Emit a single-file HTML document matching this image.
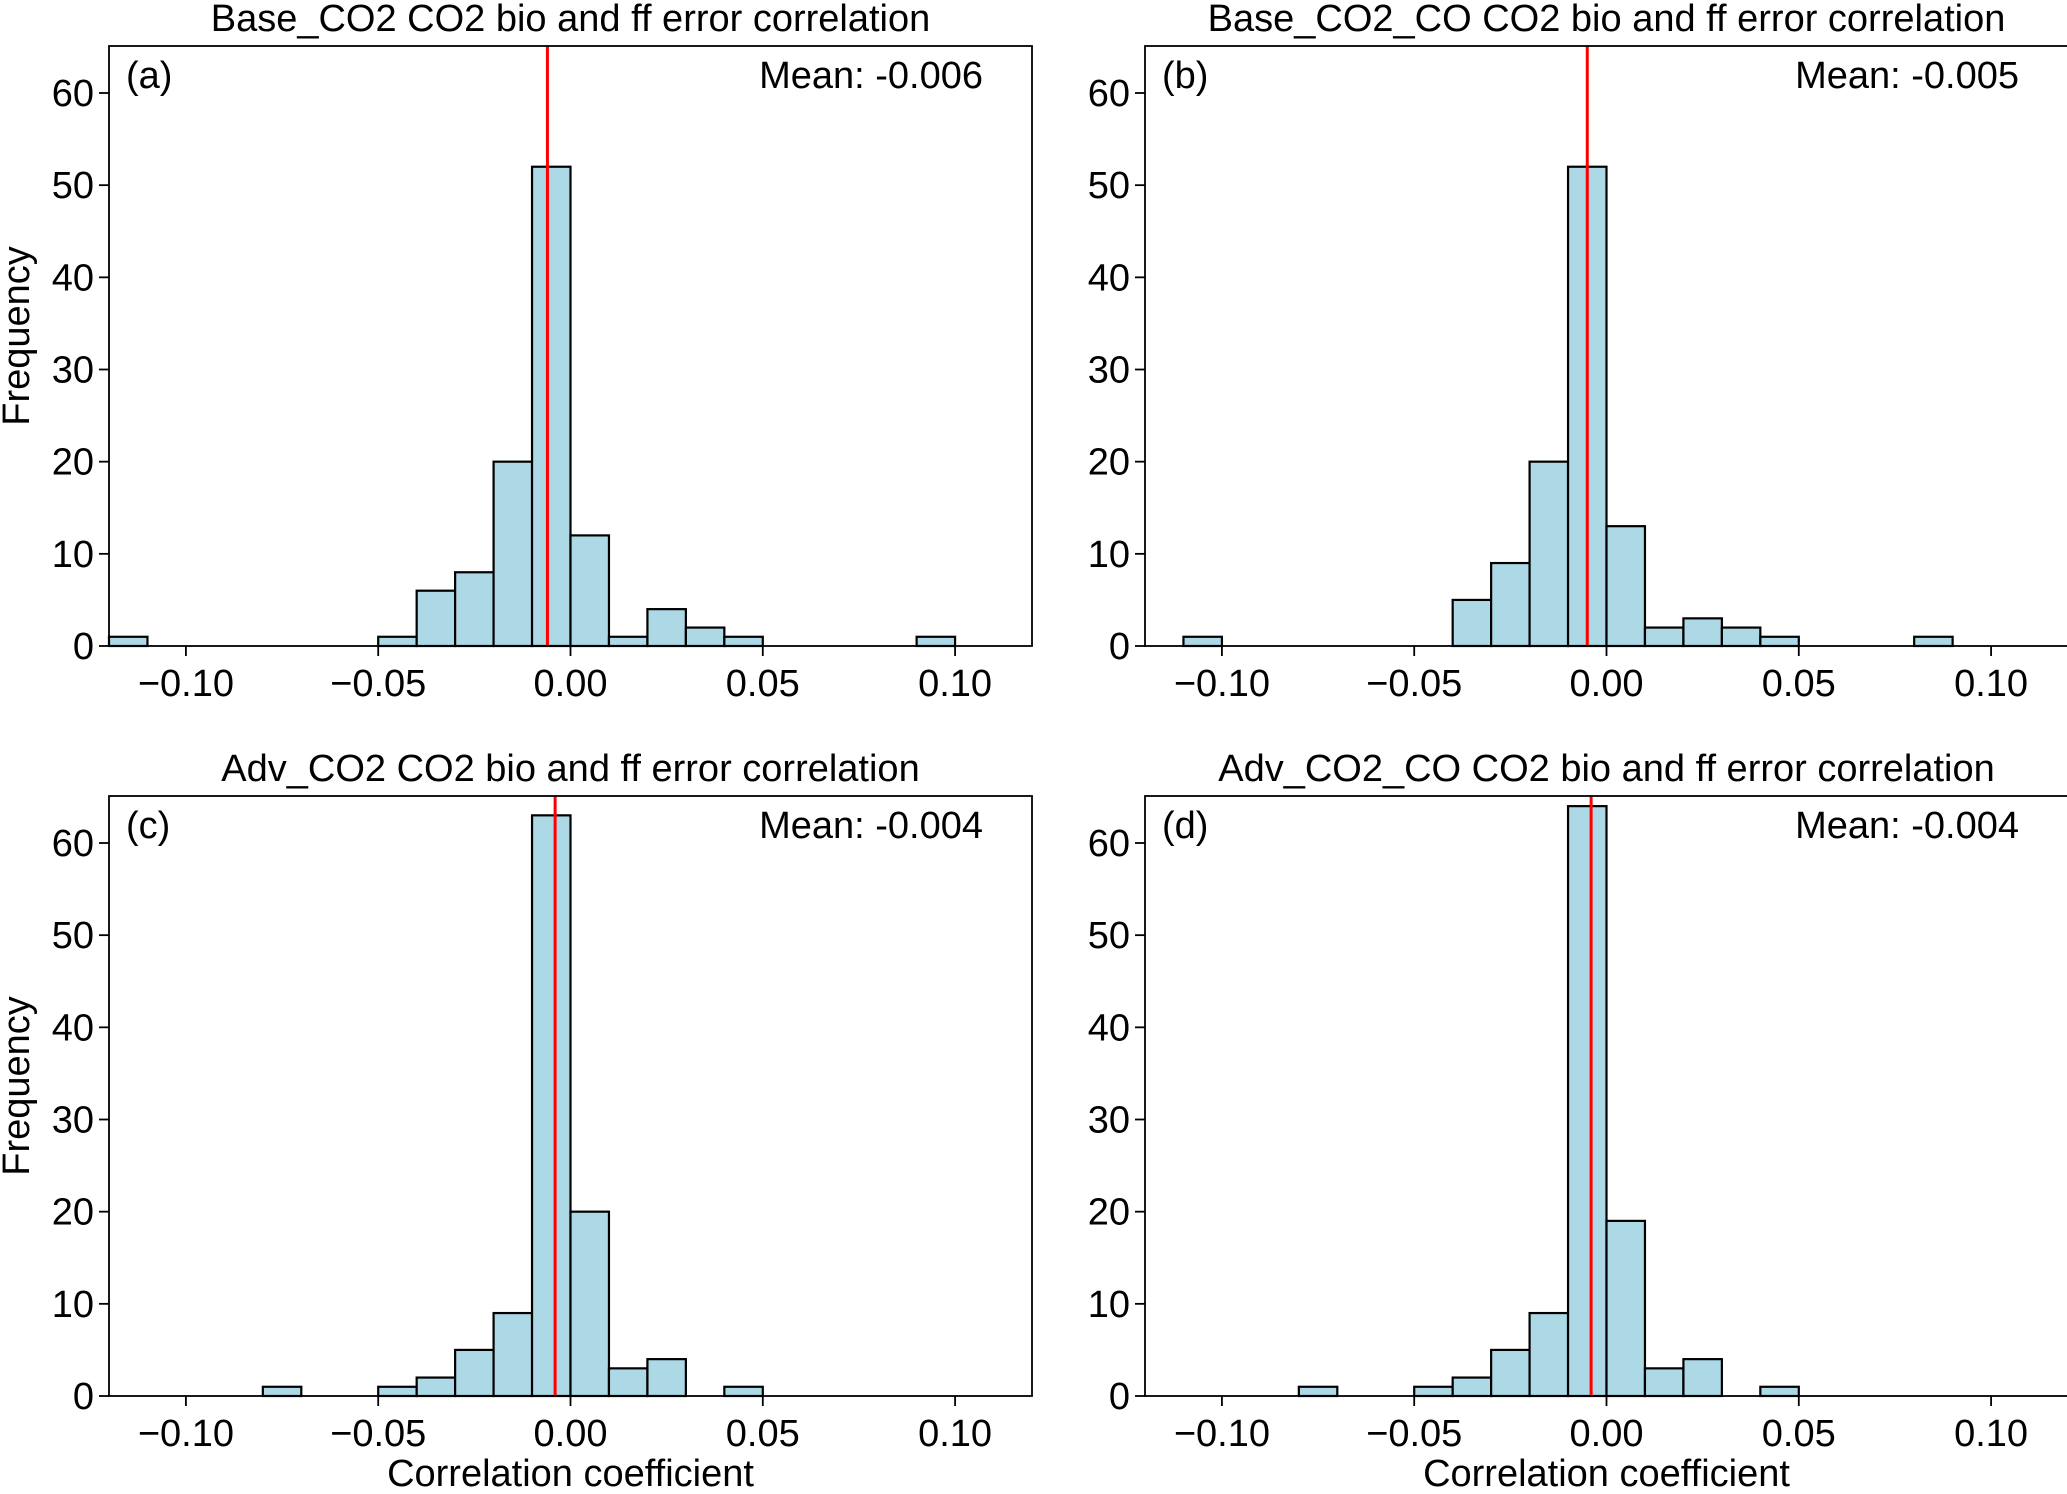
<!DOCTYPE html>
<html><head><meta charset="utf-8"><style>
html,body{margin:0;padding:0;background:#fff;}
svg text{font-family:"Liberation Sans",Arial,sans-serif;fill:#000;}
</style></head><body>
<svg id="fig" width="2067" height="1489" viewBox="0 0 2067 1489" xmlns="http://www.w3.org/2000/svg"></svg>
<script>
const binEdgesStart = -0.12;
const binWidth = 0.01;
const countsA = [1,0,0,0,0,0,0,1,6,8,20,52,12,1,4,2,1,0,0,0,0,1,0,0];
const countsB = [0,1,0,0,0,0,0,0,5,9,20,52,13,2,3,2,1,0,0,0,1,0,0,0];
const countsC = [0,0,0,0,1,0,0,1,2,5,9,63,20,3,4,0,1,0,0,0,0,0,0,0];
const countsD = [0,0,0,0,1,0,0,1,2,5,9,64,19,3,4,0,1,0,0,0,0,0,0,0];
const means = [-0.006,-0.005,-0.004,-0.004];
const titles = ["Base_CO2 CO2 bio and ff error correlation","Base_CO2_CO CO2 bio and ff error correlation","Adv_CO2 CO2 bio and ff error correlation","Adv_CO2_CO CO2 bio and ff error correlation"];
const panelLabels = ["(a)","(b)","(c)","(d)"];
const xTicks = [-0.10,-0.05,0.00,0.05,0.10];
const xTickLabels = ["\u22120.10","\u22120.05","0.00","0.05","0.10"];
const yTicks = [0,10,20,30,40,50,60];
const xMin=-0.12, xMax=0.12, yMax=65.1;
const NS="http://www.w3.org/2000/svg";
const FS=38;
const svg=document.getElementById('fig');
function mk(tag,attrs,parent){const e=document.createElementNS(NS,tag);for(const k in attrs)e.setAttribute(k,attrs[k]);(parent||svg).appendChild(e);return e;}
const panels=[
 {L:109,T:46,counts:countsA,showY:true,showX:false},
 {L:1145,T:46,counts:countsB,showY:false,showX:false},
 {L:109,T:796,counts:countsC,showY:true,showX:true},
 {L:1145,T:796,counts:countsD,showY:false,showX:true}];
const W=923,H=600;
panels.forEach((p,i)=>{
 const g=mk('g',{});
 
 
 const xs=v=>p.L+(v-xMin)/(xMax-xMin)*W;
 const ys=v=>p.T+H-v/yMax*H;
 p.counts.forEach((c,k)=>{
  if(c<=0)return;
  const x0=xs(binEdgesStart+k*binWidth), x1=xs(binEdgesStart+(k+1)*binWidth);
  const r=mk('rect',{x:x0,y:ys(c),width:x1-x0,height:ys(0)-ys(c),fill:'#add8e6',stroke:'#000','stroke-width':2.2},g);
  
  
 });
 const ml=mk('line',{x1:xs(means[i]),x2:xs(means[i]),y1:p.T,y2:p.T+H,stroke:'#ff0000','stroke-width':3},g);
 
 
 const fr=mk('rect',{x:p.L,y:p.T,width:W,height:H,fill:'none',stroke:'#000','stroke-width':1.8},g);
 
 
 yTicks.forEach(v=>{
  mk('line',{x1:p.L-10,x2:p.L,y1:ys(v),y2:ys(v),stroke:'#000','stroke-width':1.8},g);
  const t=mk('text',{x:p.L-15,y:ys(v)+13,'text-anchor':'end','font-size':FS},g);
  t.textContent=v;
  
  
 });
 xTicks.forEach((v,k)=>{
  mk('line',{x1:xs(v),x2:xs(v),y1:p.T+H,y2:p.T+H+10,stroke:'#000','stroke-width':1.8},g);
  const t=mk('text',{x:xs(v),y:p.T+H+50,'text-anchor':'middle','font-size':FS},g);
  t.textContent=xTickLabels[k];
  
  
 });
 const tt=mk('text',{x:p.L+W/2,y:p.T-15,'text-anchor':'middle','font-size':FS},g);
 tt.textContent=titles[i];
 
 
 const pl=mk('text',{x:p.L+17,y:p.T+42,'font-size':FS},g);
 pl.textContent=panelLabels[i];
 
 
 const mt=mk('text',{x:p.L+874,y:p.T+42,'text-anchor':'end','font-size':FS},g);
 mt.textContent='Mean: '+means[i].toFixed(3);
 
 
 if(p.showY){
  const yl=mk('text',{x:0,y:0,'text-anchor':'middle','font-size':FS,transform:`translate(29,${p.T+H/2-10}) rotate(-90)`},g);
  yl.textContent='Frequency';
  
  
 }
 if(p.showX){
  const xl=mk('text',{x:p.L+W/2,y:1486,'text-anchor':'middle','font-size':FS},g);
  xl.textContent='Correlation coefficient';
  
  
 }
});
</script>
</body></html>
